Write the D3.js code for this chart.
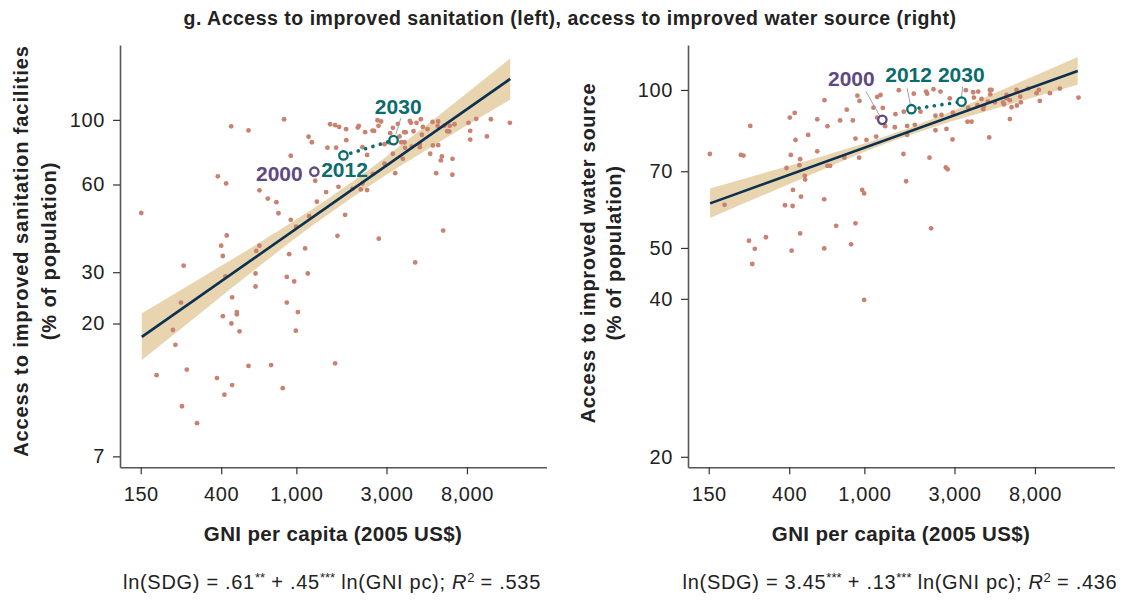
<!DOCTYPE html>
<html><head><meta charset="utf-8">
<script src="https://cdn.jsdelivr.net/npm/d3@7"></script>
<style>
body{margin:0;background:#fff}
svg{display:block}
text{font-family:"Liberation Sans",Arial,Helvetica,sans-serif}
</style>
</head><body>
<svg id="c" width="1135" height="600"></svg>
<script>
// ---------------- DATA ----------------
const titleText = "g. Access to improved sanitation (left), access to improved water source (right)";
const gniTicks = [150, 400, 1000, 3000, 8000];
const sanTicks = [7, 20, 30, 60, 100];
const watTicks = [20, 40, 50, 70, 100];
const gniDomain = [116.5, 21100];
const sanDomain = [6.42, 180.7];
const watDomain = [19.1, 121.8];

// [GNI per capita, % of population] - sanitation
const sanPoints = [
 [151,47.9],[452,95],[558,92],[861,100.5],[384,64],[425,60.5],[934,75.3],[1160,87.5],[1208,83.8],
 [1509,96.6],[1604,95.9],[1685,94.6],[1834,92.9],[2115,94.1],[2140,95.4],[2313,90.7],[2529,91.9],
 [2580,91.6],[2689,99.7],[2811,98.7],[2721,95.4],[3242,93.9],[3446,96.9],[3138,90.0],[3516,87.7],
 [3722,90.7],[3797,90.6],[3989,99.2],[4040,97.7],[4326,97.7],[4560,100.5],[4171,91.4],[4674,94.6],
 [4948,92.9],[5258,98.4],[5635,98.7],[5590,95.4],[6088,95.6],[6288,91.4],[6440,91.3],[6497,95.4],
 [6876,96.6],[8152,97.7],[8957,100.8],[10710,100.5],[13500,97.7],[8325,91.7],[8325,85.6],[10200,87.7],
 [4506,82.7],[4506,80.6],[5280,81.7],[5635,81.9],[5112,76.5],[5893,74.9],[5820,72.6],[6710,73.5],
 [5500,65.6],[6700,64.8],[4087,81.0],[3737,83.8],[3593,83.8],[3760,80.2],[3242,76.5],[3661,73.5],
 [2928,70.7],[3336,65.6],[2539,65.3],[2369,75.8],[2239,80.6],[1837,85.2],[1623,80.3],[1461,80.3],
 [2928,82.5],[3113,83.6],[1258,61.8],[1437,56.5],[1671,58.9],[1982,58.0],[2194,57.7],[2239,60.5],
 [2369,57.4],[638,57.3],[706,53.7],[784,52.2],[804,47.8],[934,45.4],[997,43.0],[1169,46.7],
 [1284,52.4],[1812,47.2],[1650,40.0],[2732,39.1],[5988,41.7],[428,40.1],[400,37.0],[408,34.1],
 [638,37.0],[613,35.5],[1113,36.2],[916,34.6],[4617,88.9],
 [253,31.6],[421,29.0],[608,29.7],[608,26.8],[890,28.9],[974,27.9],[1150,29.7],[4257,32.4],
 [245,23.6],[457,24.6],[408,21.2],[484,21.9],[484,21.5],[453,20.0],[500,18.8],[890,23.6],
 [1018,21.9],[993,18.9],[222,19.0],[229,16.9],[182,13.3],[263,13.9],[248,10.4],[298,9.1],
 [380,13.0],[457,12.3],[416,11.4],[558,14.3],[735,14.4],[847,12.0],[1604,14.6]
];

// [GNI per capita, % of population] - water
const watPoints = [
 [152,75.5],[182,60.4],[222,75.2],[229,75.0],[249,85.4],[245,51.6],[263,49.8],[301,52.4],
 [403,88.6],[428,90.4],[432,80.3],[408,75.2],[387,71.0],[457,73.8],[453,71.9],[484,68.6],
 [486,67.5],[419,64.5],[462,62.6],[380,60.3],[417,60.1],[457,53.3],[412,49.4],[504,82.1],
 [563,87.9],[563,76.4],[615,95.6],[638,85.3],[638,71.7],[659,71.7],[613,61.9],[709,55.1],
 [613,49.9],[744,87.5],[807,91.7],[784,74.3],[869,87.5],[897,80.8],[938,74.3],[974,64.5],
 [997,63.5],[897,55.7],[851,50.8],[919,97.5],[943,95.3],[1026,80.3],[1155,81.5],[1169,97.0],
 [1218,97.8],[1118,92.5],[1252,92.4],[1169,88.6],[1289,85.3],[1461,89.9],[1450,84.9],[1522,99.9],
 [1617,90.9],[1685,85.4],[1685,82.1],[1610,75.5],[1664,67.0],[1827,98.4],[1850,85.8],[1982,90.9],
 [2123,99.3],[2150,98.4],[2323,100.3],[2379,89.3],[2379,83.8],[2560,89.6],[2529,99.3],[2721,84.3],
 [2834,96.4],[2940,90.5],[2928,80.5],[2212,74.3],[2699,71.2],[2760,70.6],[2256,54.5],[3446,99.9],
 [3768,99.0],[3800,96.7],[4005,99.3],[4171,96.1],[3970,93.6],[3545,92.5],[3516,87.0],[3692,87.0],
 [4257,91.9],[4300,93.2],[4617,100.0],[4710,100.0],[4640,98.1],[4506,95.0],[4908,94.7],[5430,94.7],
 [5658,97.8],[5658,96.4],[5893,95.6],[5480,93.9],[6015,92.7],[6393,100.0],[6687,97.1],[6740,94.7],
 [6420,93.4],[5893,88.0],[4580,81.2],[7368,100.6],[8152,98.6],[8393,100.0],[8490,95.3],[9600,98.6],
 [10840,100.6],[13600,96.7],[255,46.6],[997,39.8]
];

// regression fits and confidence bands
const sanFitGni = [152, 13560];
const sanFitVal = [18.0, 138.2];
const sanBandGni = [152, 300, 600, 1200, 2400, 5000, 13560];
const sanBandLo  = [15.0, 21.3, 30.5, 43.1, 59.0, 79.6, 117.4];
const sanBandHi  = [21.7, 28.2, 37.0, 49.1, 67.2, 97.0, 162.6];

const watFitGni = [152.5, 13470];
const watFitVal = [60.8, 108.7];
const watBandGni = [152.5, 300, 600, 1200, 2400, 5000, 13470];
const watBandLo  = [57.0, 63.3, 70.5, 78.2, 85.3, 92.3, 102.3];
const watBandHi  = [64.9, 69.6, 74.8, 80.8, 88.6, 99.0, 115.5];

// country-average trajectory markers
const years = ["2000", "2012", "2030"];
const markerGni = [1245, 1775, 3270];
const sanMarker = [66.4, 75.5, 85.2];
const watMarker = [87.7, 91.9, 95.0];

// ---------------- STYLE ----------------
const C = {
  dot: "#c8826f", band: "#e8d4af", line: "#0c3150",
  purple: "#5e4a82", teal: "#0b6c6c", axis: "#555", text: "#222", leader: "#a0a0a0"
};
const FONT = '"Liberation Sans", Arial, Helvetica, sans-serif';

const svg = d3.select("#c");

svg.append("text")
  .attr("x", 570).attr("y", 25).attr("text-anchor", "middle")
  .style("font-weight", "bold").style("font-size", "19.5px").style("letter-spacing", "0.5px")
  .attr("fill", C.text)
  .text(titleText);

function panel(o) {
  const x = d3.scaleLog().domain(gniDomain).range([o.x0, o.x0 + 426.5]);
  const y = d3.scaleLog().domain(o.yDomain).range([467.3, 45]);
  const g = svg.append("g");

  const band = o.bandGni.map((d, i) => [d, o.bandLo[i], o.bandHi[i]]);
  g.append("path").datum(band)
    .attr("d", d3.area().x(d => x(d[0])).y0(d => y(d[1])).y1(d => y(d[2])).curve(d3.curveMonotoneX))
    .attr("fill", C.band);

  g.selectAll("circle.pt").data(o.points).join("circle").attr("class", "pt")
    .attr("cx", d => x(d[0])).attr("cy", d => y(d[1])).attr("r", 2.4).attr("fill", C.dot);

  g.append("path").datum(o.fitGni.map((d, i) => [d, o.fitVal[i]]))
    .attr("d", d3.line().x(d => x(d[0])).y(d => y(d[1])))
    .attr("fill", "none").attr("stroke", C.line).attr("stroke-width", 2.6);

  // axes
  const xa = g.append("g").attr("transform", "translate(0,467.3)")
    .call(d3.axisBottom(x).tickValues(gniTicks).tickFormat(d3.format(",")).tickSize(7).tickSizeOuter(0).tickPadding(13));
  const ya = g.append("g").attr("transform", `translate(${o.x0},0)`)
    .call(d3.axisLeft(y).tickValues(o.yTicks).tickFormat(d3.format("d")).tickSize(7).tickSizeOuter(0).tickPadding(8));
  [xa, ya].forEach(a => {
    a.select(".domain").attr("stroke", C.axis).attr("stroke-width", 1.6);
    a.selectAll(".tick line").attr("stroke", "#333").attr("stroke-width", 1.2);
    a.selectAll(".tick text").attr("fill", C.text).style("font-size", "20px")
      .style("letter-spacing", "0.6px").style("font-family", FONT);
  });

  // trajectory
  const mk = markerGni.map((d, i) => [x(d), y(o.marker[i])]);
  g.append("path").datum([mk[1], mk[2]])
    .attr("d", d3.line())
    .attr("stroke", C.teal).attr("stroke-width", 3.6).attr("stroke-linecap", "round")
    .attr("stroke-dasharray", "0.1 7.6").attr("fill", "none");

  // leaders
  o.leaders.forEach((l, i) => {
    if (!l) return;
    g.append("line")
      .attr("x1", mk[i][0] + l[0]).attr("y1", mk[i][1] + l[1])
      .attr("x2", mk[i][0] + l[2]).attr("y2", mk[i][1] + l[3])
      .attr("stroke", C.leader).attr("stroke-width", 1);
  });

  g.selectAll("circle.mk").data(mk).join("circle").attr("class", "mk")
    .attr("cx", d => d[0]).attr("cy", d => d[1]).attr("r", 4.2)
    .attr("fill", "#fff").attr("stroke-width", 2.3)
    .attr("stroke", (d, i) => i === 0 ? C.purple : C.teal);

  years.forEach((yr, i) => {
    const p = o.labels[i];
    g.append("text")
      .attr("x", mk[i][0] + p[0]).attr("y", mk[i][1] + p[1])
      .attr("text-anchor", p[2])
      .style("font-weight", "bold").style("font-size", "21px")
      .attr("fill", i === 0 ? C.purple : C.teal)
      .text(yr);
  });

  // axis titles
  const cx = o.x0 + 213;
  g.append("text").attr("x", cx).attr("y", 541).attr("text-anchor", "middle")
    .style("font-weight", "bold").style("font-size", "20.5px").style("letter-spacing", "0.35px")
    .attr("fill", C.text)
    .text("GNI per capita (2005 US$)");

  o.yTitle.forEach((t, i) => {
    g.append("text")
      .attr("transform", `translate(${o.yTitleX[i]},${o.yTitleY}) rotate(-90)`)
      .attr("text-anchor", "middle")
      .style("font-weight", "bold").style("font-size", "20px").style("letter-spacing", o.yTitleLS)
      .attr("fill", C.text)
      .text(t);
  });

  // equation
  const eq = g.append("text").attr("x", o.eqX).attr("y", 589).attr("text-anchor", "middle")
    .style("font-size", "20px").style("letter-spacing", "0.7px").attr("fill", C.text);
  o.eq.forEach(part => {
    const t = eq.append("tspan").text(part.t);
    if (part.sup) t.attr("dy", -7).style("font-size", "13px").style("letter-spacing", "0px");
    if (part.down) t.attr("dy", 7);
    if (part.it) t.style("font-style", "italic");
  });
}

panel({
  x0: 120, yDomain: sanDomain, yTicks: sanTicks, points: sanPoints,
  fitGni: sanFitGni, fitVal: sanFitVal, bandGni: sanBandGni, bandLo: sanBandLo, bandHi: sanBandHi,
  marker: sanMarker,
  labels: [[-11.6, 9, "end"], [-22.3, 21.6, "start"], [-18.7, -26, "start"]],
  leaders: [null, null, [7.3, -22, 2.3, -6]],
  yTitle: ["Access to improved sanitation facilities", "(% of population)"],
  yTitleX: [28, 56], yTitleY: 251, yTitleLS: "0.9px",
  eqX: 332,
  eq: [{t: "ln(SDG) = .61"}, {t: "**", sup: 1}, {t: " + .45", down: 1}, {t: "***", sup: 1},
       {t: " ln(GNI pc); ", down: 1}, {t: "R", it: 1}, {t: "2", sup: 1}, {t: " = .535", down: 1}]
});

panel({
  x0: 688, yDomain: watDomain, yTicks: watTicks, points: watPoints,
  fitGni: watFitGni, fitVal: watFitVal, bandGni: watBandGni, bandLo: watBandLo, bandHi: watBandHi,
  marker: watMarker,
  labels: [[-31, -34.3, "middle"], [-2.8, -27, "middle"], [-0.3, -19.4, "middle"]],
  leaders: [[-16.3, -28.3, -2.3, -3.5], [-4.3, -21, -1, -4.5], [1, -15, 0, -4.4]],
  yTitle: ["Access to improved water source", "(% of population)"],
  yTitleX: [595, 621], yTitleY: 253, yTitleLS: "0.7px",
  eqX: 900,
  eq: [{t: "ln(SDG) = 3.45"}, {t: "***", sup: 1}, {t: " + .13", down: 1}, {t: "***", sup: 1},
       {t: " ln(GNI pc); ", down: 1}, {t: "R", it: 1}, {t: "2", sup: 1}, {t: " = .436", down: 1}]
});
</script>
</body></html>
